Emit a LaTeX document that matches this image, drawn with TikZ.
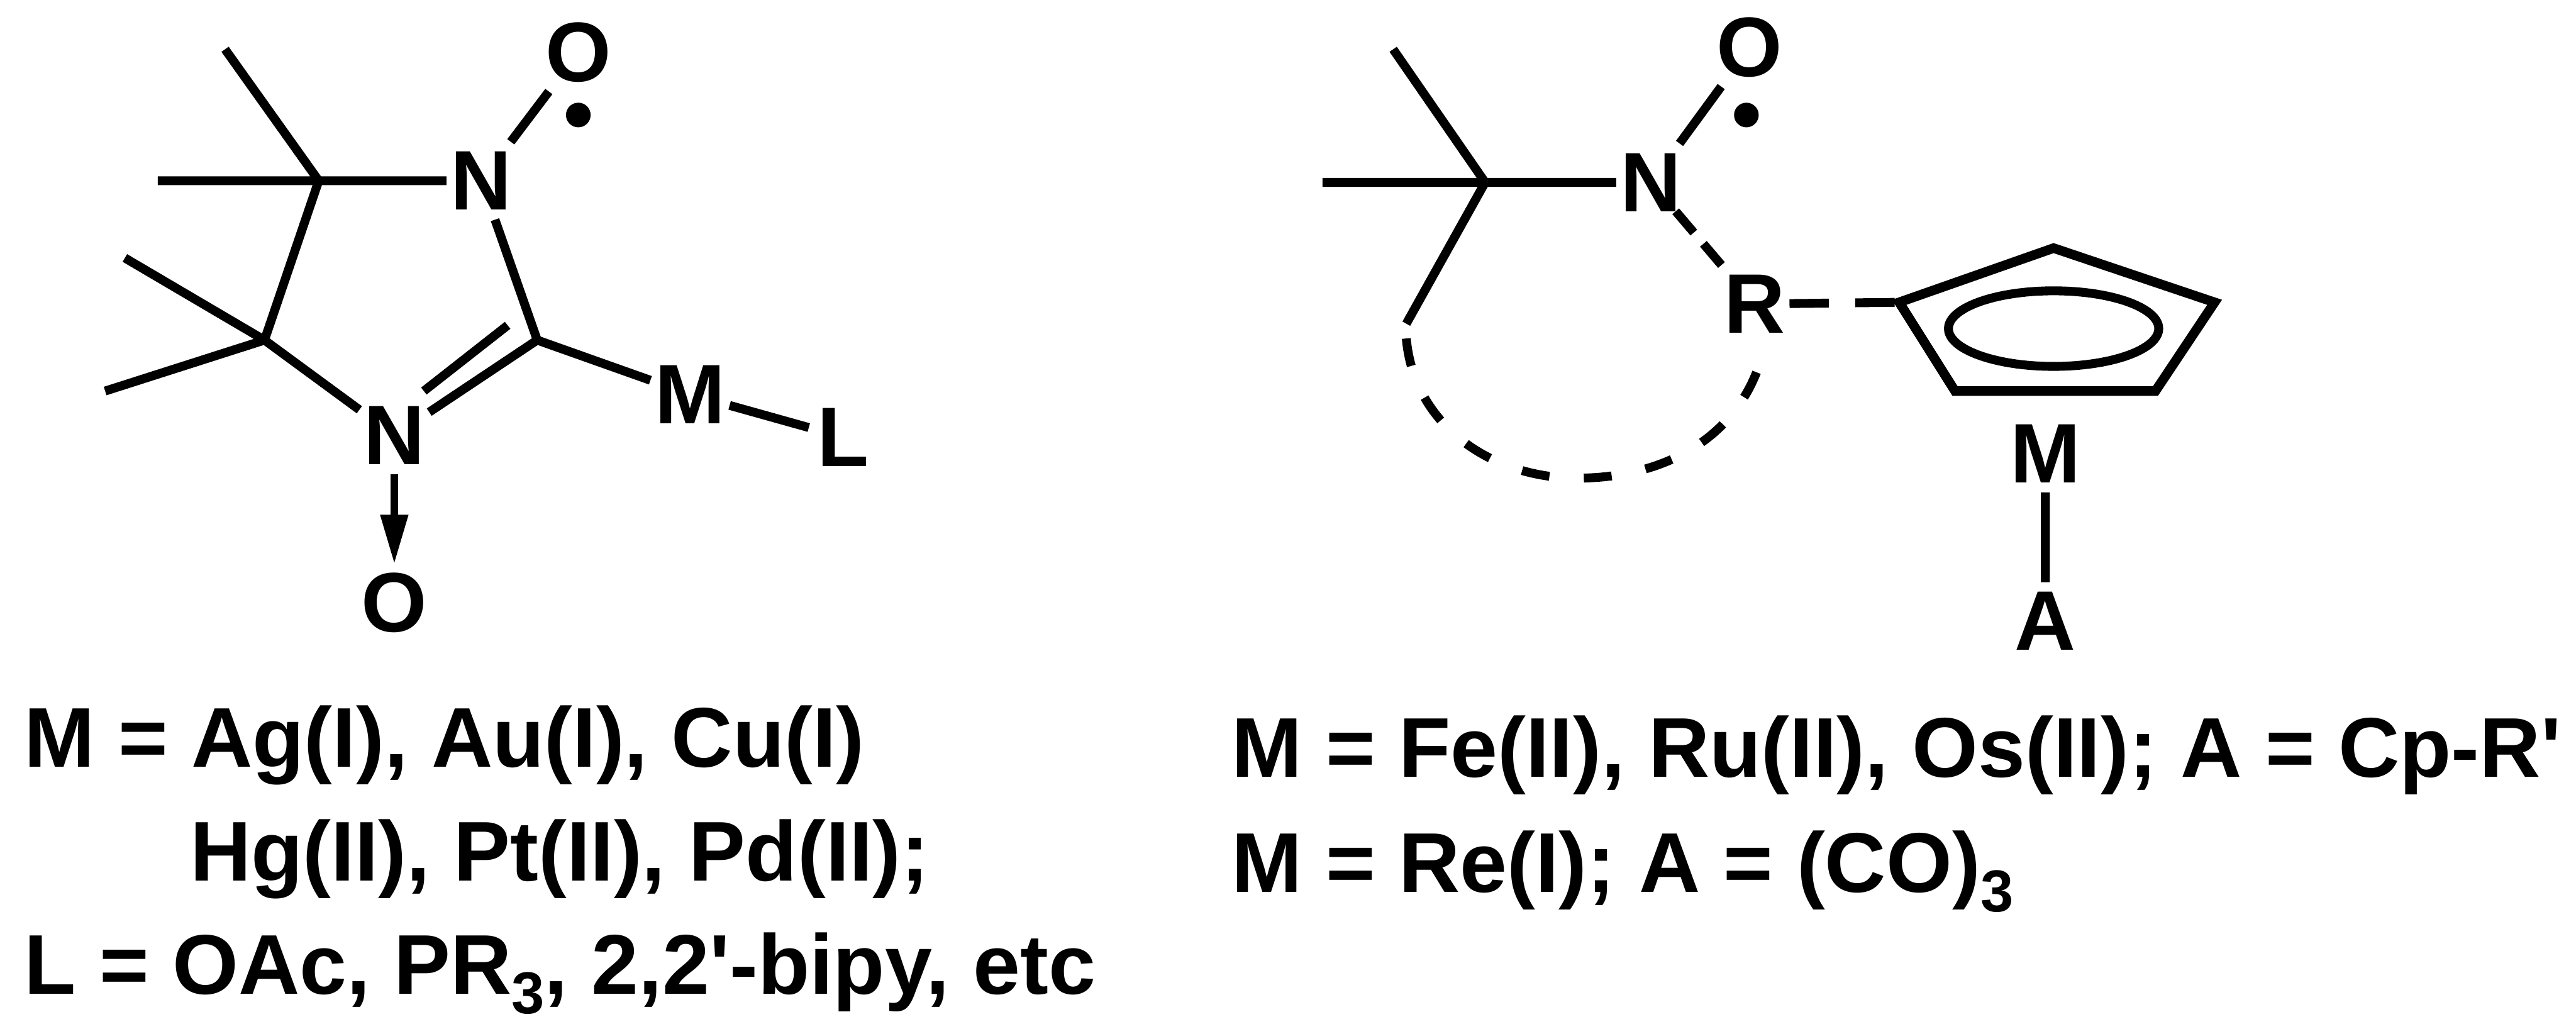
\documentclass[tikz,border=0pt]{standalone}
\usepackage{fontspec}
\setmainfont{Liberation Sans}
\usetikzlibrary{arrows.meta}
\newcommand{\subnum}[1]{\raisebox{-6pt}{\fontsize{18}{20}\selectfont #1}}
\newcommand{\primemark}{\XeTeXglyph\XeTeXcharglyph"27\relax}
\tikzstyle{atom}=[font=\fontsize{25.7}{30}\selectfont\bfseries, inner sep=0pt, minimum width=18pt, minimum height=21pt]
\tikzstyle{legend}=[font=\fontsize{25.8}{30}\selectfont\bfseries, inner sep=0pt, anchor=base west]
\tikzstyle{bond}=[line width=2.7pt]
\tikzstyle{radical}=[circle, fill=black, inner sep=0pt, minimum size=7.5pt]

\begin{document}
\begin{tikzpicture}[x=0.5pt, y=-0.5pt, bond]
    \useasboundingbox (0,0) rectangle (1568,626);

    \node[atom] (n1) at (293, 110) {N};
    \node[atom] (o1) at (352, 32) {O};
    \node[radical] (d1) at (352, 70) {};
    \node[atom] (n2) at (240, 265) {N};
    \node[atom] (o2) at (240, 367) {O};
    \node[atom] (m1) at (420, 240) {M};
    \node[atom] (l1) at (513, 266) {L};
    \coordinate (c1) at (194, 110);
    \coordinate (c2) at (161, 207);
    \coordinate (c3) at (327, 207);
    \coordinate (me1) at (137, 30);
    \coordinate (me2) at (96, 110);
    \coordinate (me3) at (76, 157);
    \coordinate (me4) at (64, 238);
    \coordinate (db1) at (258, 238);
    \coordinate (db2) at (309, 198);
    \draw (c1)--(me1) (c1)--(me2) (c2)--(me3) (c2)--(me4);
    \draw (c1)--(n1) (c1)--(c2) (c2)--(n2) (n1)--(c3);
    \draw (n2)--(c3)--(m1) (n1)--(o1) (m1)--(l1) (db1)--(db2);
    \draw[line width=2.2pt, -{Stealth[length=15pt, width=8pt, inset=0pt]}] (n2)--(o2);

    \node[atom] (n3) at (1005, 111) {N};
    \node[atom] (o3) at (1065, 29) {O};
    \node[radical] (d3) at (1063, 70) {};
    \node[atom] (r1) at (1068, 185) {R};
    \node[atom] (m2) at (1245, 276) {M};
    \node[atom] (a1) at (1245, 378) {A};
    \coordinate (c4) at (904, 111);
    \coordinate (me5) at (848, 30);
    \coordinate (me6) at (805, 111);
    \coordinate (c5) at (856, 197);
    \coordinate (p1) at (1250, 151);
    \coordinate (p2) at (1348, 184);
    \coordinate (p3) at (1312, 238);
    \coordinate (p4) at (1190, 238);
    \coordinate (p5) at (1156, 184);
    \coordinate (s1) at (856, 206);
    \coordinate (s2) at (960, 291);
    \coordinate (s3) at (1073, 215);
    \draw (c4)--(me5) (c4)--(me6) (c4)--(c5) (c4)--(n3) (n3)--(o3) (m2)--(a1);
    \draw[dash pattern=on 8.5pt off 4.5pt, shorten <=-4pt] (n3)--(r1);
    \draw[dash pattern=on 12pt off 8pt] (r1)--(p5);
    \draw[line width=2.9pt, line join=miter] (p1)--(p2)--(p3)--(p4)--(p5)--cycle;
    \draw (1250, 200) ellipse (64 and 23);
    \draw[dash pattern=on 8.5pt off 10.5pt] (s1) to[out=-85, in=180] (s2) to[out=0, in=-105] (s3);

    \node[legend] (t1) at (12, 467) {M = Ag(I), Au(I), Cu(I)};
    \node[legend] (t2) at (113, 536) {Hg(II), Pt(II), Pd(II);};
    \node[legend] (t3) at (12, 605) {L = OAc, PR\subnum{3}, 2,2\primemark-bipy, etc};
    \node[legend] (t4) at (747, 473) {M = Fe(II), Ru(II), Os(II); A = Cp-R\primemark};
    \node[legend] (t5) at (747, 543) {M = Re(I); A = (CO)\subnum{3}};
\end{tikzpicture}
\end{document}
